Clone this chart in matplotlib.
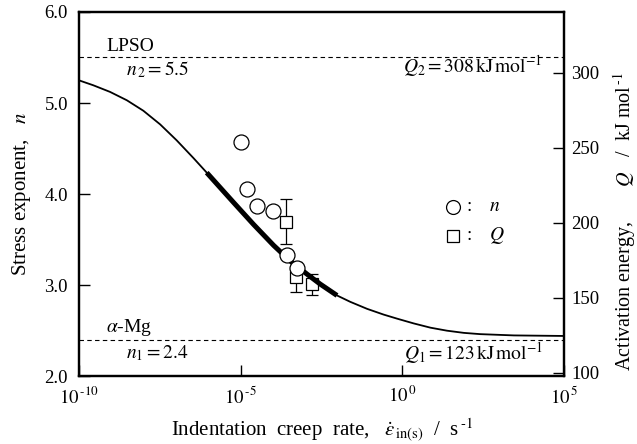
import numpy as np
import matplotlib
matplotlib.use("Agg")
import matplotlib.pyplot as plt
from matplotlib.lines import Line2D

plt.rcParams['font.family'] = ['Liberation Serif', 'DejaVu Serif']
plt.rcParams['mathtext.fontset'] = 'stix'

# fitted curve n vs log10(creep rate)
curve_logx = [-10.0, -9.56, -9.04, -8.52, -8.01, -7.49, -6.98, -6.46, -6.05, -5.84,
              -5.22, -4.60, -3.98, -3.47, -2.95, -2.54, -2.02, -1.61, -1.09, -0.58,
              -0.16, 0.35, 0.87, 1.38, 1.90, 2.41, 3.45, 5.0]
curve_n = [5.249, 5.195, 5.122, 5.030, 4.915, 4.765, 4.590, 4.395, 4.235, 4.152,
           3.907, 3.665, 3.435, 3.265, 3.120, 3.010, 2.885, 2.815, 2.738, 2.675,
           2.630, 2.578, 2.531, 2.498, 2.474, 2.460, 2.446, 2.440]
thick_range = (-6.05, -2.02)

# stress exponent n (circles)
n_logx = [-4.985, -4.81, -4.50, -3.985, -3.57, -3.26]
n_vals = [4.575, 4.055, 3.871, 3.813, 3.330, 3.184]

# activation energy Q (squares)
q_logx = [-3.59, -3.29, -2.80]
q_vals = [200.7, 163.5, 159.1]
q_err = [15.0, 10.0, 7.0]

n1, n2 = 2.4, 5.5
q1, q2 = 123, 308

FS = 14
LFS = 15

fig = plt.figure(figsize=(6.37, 4.44), dpi=100)
ax = fig.add_axes([79 / 637, (444 - 376) / 444, 485 / 637, 364 / 444])
ax2 = ax.twinx()

cx = 10.0 ** np.array(curve_logx)
ax.plot(cx, curve_n, color='black', lw=1.3, zorder=2)
sel = [(v >= thick_range[0]) and (v <= thick_range[1]) for v in curve_logx]
ax.plot(cx[sel], np.array(curve_n)[sel], color='black', lw=3.6,
        solid_capstyle='butt', zorder=2)

ax.axhline(n2, color='black', lw=0.8, ls=(0, (4, 3)), zorder=1)
ax.axhline(n1, color='black', lw=0.8, ls=(0, (4, 3)), zorder=1)

ax.plot(10.0 ** np.array(n_logx), n_vals, 'o', ms=10.8, mfc='white', mec='black',
        mew=0.9, zorder=4)
ax2.errorbar(10.0 ** np.array(q_logx), q_vals, yerr=q_err, fmt='s', ms=9.2,
             mfc='white', mec='black', mew=0.9, ecolor='black', elinewidth=0.9,
             capsize=4.3, capthick=0.9, zorder=5)
ax.set_zorder(ax2.get_zorder() + 1)
ax.patch.set_visible(False)

ax.set_xscale('log')
ax.set_xlim(1e-10, 1e5)
ax.set_ylim(2.0, 6.0)
ax.set_xticks([1e-10, 1e-5, 1e0, 1e5])
ax.set_xticklabels([r'$10^{\,\text{-10}}$', r'$10^{\,\text{-5}}$',
                    r'$10^{\,\text{0}}$', r'$10^{\,\text{5}}$'])
ax.minorticks_off()
ax.set_yticks([2.0, 3.0, 4.0, 5.0, 6.0])
ax.set_yticklabels(['2.0', '3.0', '4.0', '5.0', '6.0'])
ax2.set_ylim(97.8, 340.4)
ax2.set_yticks([100, 150, 200, 250, 300])

for a in (ax, ax2):
    a.tick_params(direction='in', length=8, width=1.0, labelsize=13.5)
    for s in a.spines.values():
        s.set_linewidth(1.6)
ax.tick_params(axis='x', pad=7)
ax.tick_params(axis='y', pad=8)
ax2.tick_params(axis='y', pad=5)

ax.set_xlabel(r'Indentation  creep  rate,   $\dot{\varepsilon}_{\,\mathrm{in(s)}}$  /  s$^{\,\text{-1}}$',
              fontsize=LFS, labelpad=7)
ax.set_ylabel(r'Stress exponent,   $n$', fontsize=LFS)
ax.yaxis.set_label_coords(-0.094, 0.5)
ax2.set_ylabel(r'Activation energy,       $Q$   /  kJ mol$^{\,\text{-1}}$', fontsize=14.5)
ax2.yaxis.set_label_coords(1.097, 0.425)

tk = dict(transform=ax.transAxes, fontsize=FS, va='center')
ax.text(0.056, 0.905, 'LPSO', **tk)
ax.text(0.097, 0.842, r'$n_{\,2} = 5.5$', **tk)
ax.text(0.954, 0.852, r'$Q_2 = 308\,\mathrm{kJ\,mol^{-1}}$', ha='right', **tk)
ax.text(0.056, 0.132, r'$\alpha$-Mg', **tk)
ax.text(0.097, 0.063, r'$n_1 = 2.4$', **tk)
ax.text(0.956, 0.063, r'$Q_1 = 123\,\mathrm{kJ\,mol^{-1}}$', ha='right', **tk)

# legend drawn by hand
ax.add_line(Line2D([0.771], [0.463], marker='o', ms=10, mfc='white', mec='black',
                   mew=0.9, transform=ax.transAxes))
ax.add_line(Line2D([0.771], [0.385], marker='s', ms=9, mfc='white', mec='black',
                   mew=0.9, transform=ax.transAxes))
ax.text(0.80, 0.465, ':', **tk)
ax.text(0.80, 0.387, ':', **tk)
ax.text(0.845, 0.465, r'$n$', **tk)
ax.text(0.845, 0.387, r'$Q$', **tk)

fig.savefig('out.png', dpi=100)
